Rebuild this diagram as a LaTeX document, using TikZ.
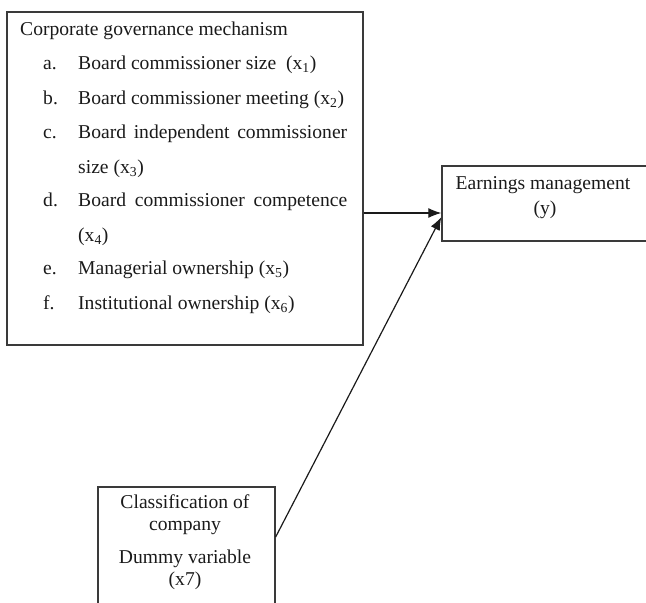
\documentclass[tikz,border=0pt]{standalone}
\usepackage{fontspec}
\setmainfont{Liberation Serif}
\usetikzlibrary{arrows.meta,positioning,calc}
\definecolor{ink}{HTML}{1A1A1A}
\definecolor{frame}{HTML}{3A3A3A}

\begin{document}
\begin{tikzpicture}[
  x=1pt, y=-1pt,
  every node/.style={font=\fontsize{19.6}{23}\selectfont, text=ink},
  box/.style={draw=frame, line width=1.3pt, inner sep=0pt},
  itemline/.style={anchor=mid west, inner sep=0pt},
  itemmark/.style={anchor=mid west, inner sep=0pt},
  cline/.style={anchor=mid, inner sep=0pt},
  arr/.style={-{Latex[length=13pt,width=10pt]}, ink, line width=1.2pt}
]
\useasboundingbox (0,0) rectangle (646,603);
\clip (0,0) rectangle (646,603);

% boxes
\node[box, minimum width=356pt, minimum height=333pt] (gcm) at (185,178.5) {};
\node[box, minimum width=210pt, minimum height=75pt] (earn) at (547,203.5) {};
\node[box, minimum width=177pt, minimum height=132pt] (cls) at (186.5,553) {};

% corporate governance list
\node[itemline] (title) at (20,33) {Corporate governance mechanism};
\node[itemmark] (ma) at (43,67) {a.};
\node[itemline] (ia) at (78,67) {Board commissioner size\ \ (x\textsubscript{1})};
\node[itemmark] (mb) at (43,102) {b.};
\node[itemline] (ib) at (78,102) {Board commissioner meeting (x\textsubscript{2})};
\node[itemmark] (mc) at (43,136) {c.};
\node[itemline] (ic) at (78,136) {\makebox[269pt][s]{Board independent commissioner}};
\node[itemline] (ic2) at (78,171) {size (x\textsubscript{3})};
\node[itemmark] (md) at (43,204) {d.};
\node[itemline] (id) at (78,204) {\makebox[269pt][s]{Board commissioner competence}};
\node[itemline] (id2) at (78,239) {(x\textsubscript{4})};
\node[itemmark] (me) at (43,272) {e.};
\node[itemline] (ie) at (78,272) {Managerial ownership (x\textsubscript{5})};
\node[itemmark] (mf) at (43,307) {f.};
\node[itemline] (if) at (78,307) {Institutional ownership (x\textsubscript{6})};

% earnings management
\node[cline] (et) at (543,187) {Earnings management};
\node[cline] (ey) at (545,212) {(y)};

% classification
\node[cline] (c1) at (185,506) {Classification of};
\node[cline] (c2) at (185,528) {company};
\node[cline] (c3) at (185,561) {Dummy variable};
\node[cline] (c4) at (185,583) {(x7)};

% connectors
\coordinate (hit1) at ([yshift=-9.5pt]earn.west);
\coordinate (hit2) at ([yshift=-13.5pt]earn.west);
\coordinate (out2) at ([yshift=16pt]cls.east);
\draw[arr] (gcm.east |- hit1) -- (hit1);
\draw[arr] (out2) -- (hit2);
\end{tikzpicture}
\end{document}
